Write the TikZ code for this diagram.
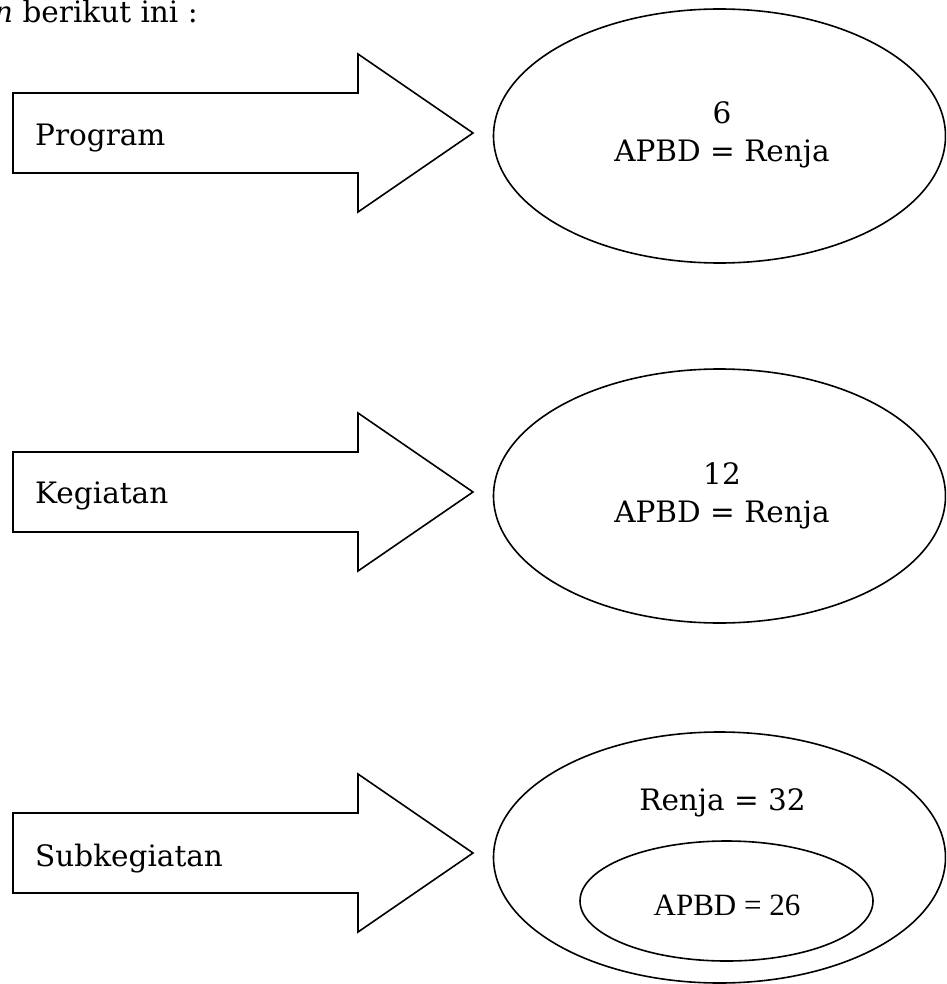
\documentclass[tikz,border=0pt]{standalone}
\usepackage{fontspec}
\setmainfont{DejaVu Serif}
\newfontfamily\timesfont{Liberation Serif}
\usetikzlibrary{shapes.geometric}

\tikzset{
  outline/.style={draw=black, line width=1.6pt, line join=miter},
  oval/.style={ellipse, outline, inner sep=0pt},
  label/.style={inner sep=0pt, font=\fontsize{29.5}{35}\selectfont},
}

% block arrow: body from x=13 to x=358, half height 40, head half height 79, tip at x=473
\newcommand{\blockarrow}[1]{%
  \draw[outline] (13,#1-40) -- (358,#1-40) -- (358,#1-79) -- (473,#1)
    -- (358,#1+79) -- (358,#1+40) -- (13,#1+40) -- cycle;}

\begin{document}
\begin{tikzpicture}[x=1pt, y=-1pt]
  \useasboundingbox (0,0) rectangle (946,984);
  \clip (0,0) rectangle (946,984);

  % heading line
  \node[label, anchor=base west] (head) at (-6,22.5) {\textit{n} berikut ini :};

  % Program
  \blockarrow{133}
  \node[label, anchor=base west] (program) at (35,146) {Program};
  \node[oval, minimum width=452pt, minimum height=254pt] (e1) at (719.5,136) {};
  \node[label, anchor=base] (e1a) at (722,124) {6};
  \node[label, anchor=base] (e1b) at (722,162) {APBD = Renja};

  % Kegiatan
  \blockarrow{492}
  \node[label, anchor=base west] (kegiatan) at (35,503) {Kegiatan};
  \node[oval, minimum width=452pt, minimum height=254pt] (e2) at (719.5,496) {};
  \node[label, anchor=base] (e2a) at (722,484) {12};
  \node[label, anchor=base] (e2b) at (722,522) {APBD = Renja};

  % Subkegiatan
  \blockarrow{853}
  \node[label, anchor=base west] (subkeg) at (35,866) {Subkegiatan};
  \node[oval, minimum width=452pt, minimum height=251pt] (e3) at (719.5,857.5) {};
  \node[label, anchor=base] (renja) at (722.5,810) {Renja = 32};
  \node[oval, minimum width=293pt, minimum height=120pt] (e4) at (726.5,901) {};
  \node[inner sep=0pt, anchor=base, font=\timesfont\fontsize{31}{36}\selectfont]
    (apbd) at (727,915) {APBD = 26};
\end{tikzpicture}
\end{document}
